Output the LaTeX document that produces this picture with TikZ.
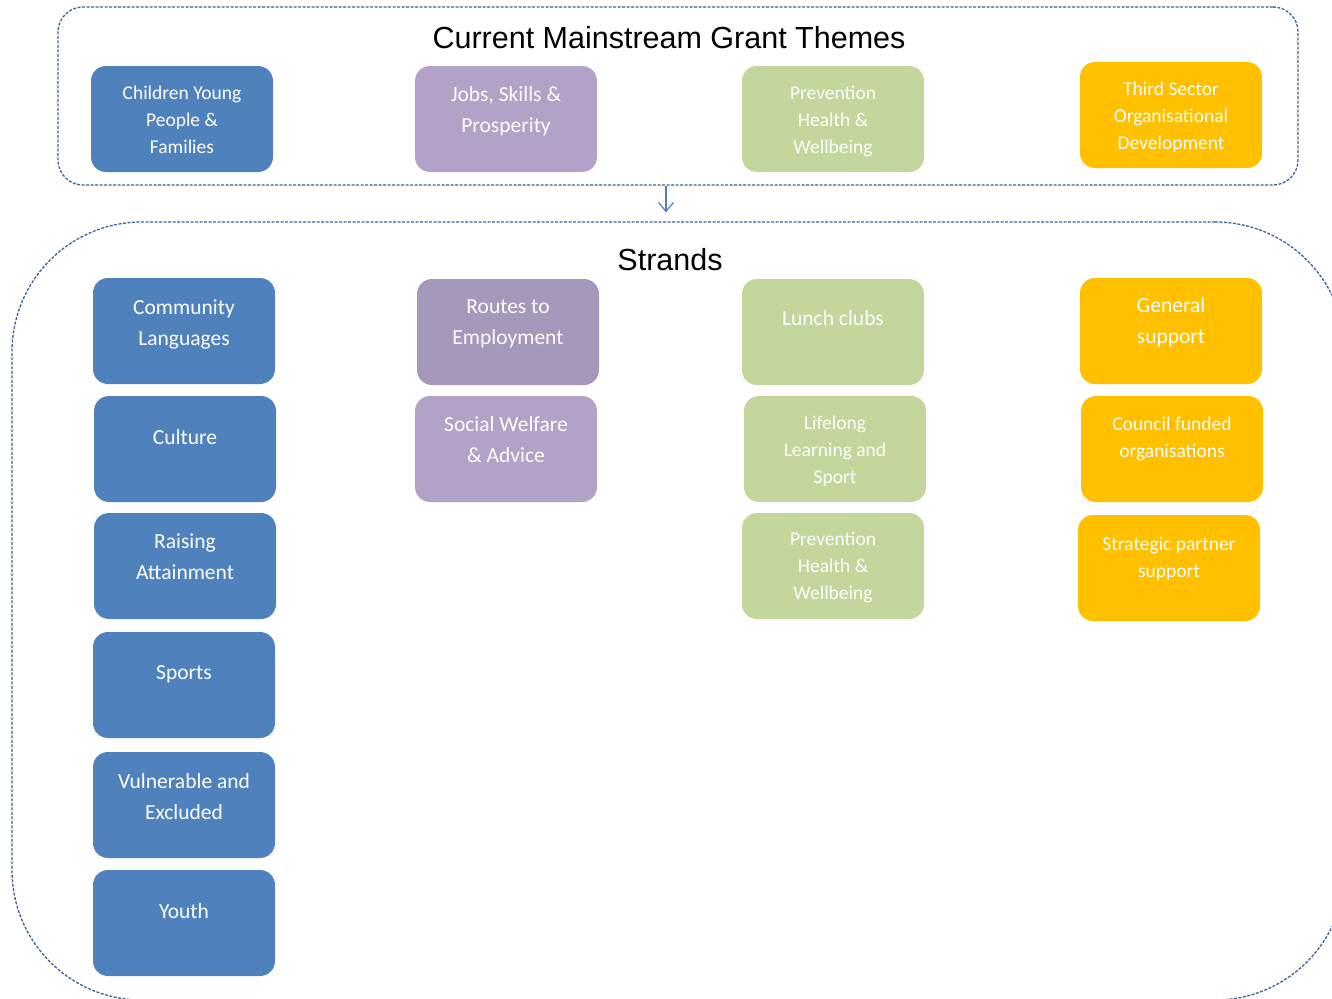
\documentclass[tikz,border=0pt]{standalone}
\usepackage{fontspec}
\newfontfamily\carlito{Carlito}
\newfontfamily\arialfont{Liberation Sans}
\usetikzlibrary{positioning}
\usetikzlibrary{arrows.meta}
\definecolor{cypblue}{HTML}{4F81BD}
\definecolor{jobslilac}{HTML}{B3A2C7}
\definecolor{routeslilac}{HTML}{A698BA}
\definecolor{healthgreen}{HTML}{C3D69B}
\definecolor{sectorgold}{HTML}{FFC000}
\definecolor{frameblue}{HTML}{3F6390}

\begin{document}
\begin{tikzpicture}
[x=1pt,y=-1pt,
  boxdecorate/.style={shape=rectangle,rounded corners=15pt,draw=none,%
    minimum width=182pt,minimum height=106pt,inner sep=0pt},
  framedecorate/.style={shape=rectangle,draw=frameblue,line width=1.3pt,%
    dash pattern=on 3pt off 1.5pt,inner sep=0pt},
  titledecorate/.style={font=\arialfont\fontsize{30.5}{36}\selectfont,inner sep=0pt},
  smalltext/.style={text=white,align=center,inner sep=0pt,%
    font=\carlito\fontsize{19.5}{27}\selectfont},
  largetext/.style={text=white,align=center,inner sep=0pt,%
    font=\carlito\fontsize{21.5}{31}\selectfont},
  linedecorate/.style={draw=cypblue,line width=1.2pt,-{Straight Barb[length=9pt,width=15pt]}}]
\useasboundingbox (0,0) rectangle (1332,998);
\clip (0,0) rectangle (1332,998);
%% frames and titles
\node (themes) at (678,96) [framedecorate,rounded corners=25pt,%
  minimum width=1240pt,minimum height=178pt] {};
\node (strands) at (678.5,611) [framedecorate,rounded corners=130pt,%
  minimum width=1333pt,minimum height=778pt] {};
\node (themestitle) at (669,38) [titledecorate] {Current Mainstream Grant Themes};
\node (strandstitle) at (670,260) [titledecorate] {Strands};
%% boxes
\foreach \boxname/\x/\y/\colour/\txtstyle/\shiftdown/\boxtext in {%
  cyp/182/119/cypblue/smalltext/20/{Children Young\\People \&\\Families},
  jsp/506/119/jobslilac/largetext/21/{Jobs, Skills \&\\Prosperity},
  phw/833/119/healthgreen/smalltext/20/{Prevention\\Health \&\\Wellbeing},
  tsod/1171/115/sectorgold/smalltext/20/{Third Sector\\Organisational\\Development},
  commlang/184/331/cypblue/largetext/22/{Community\\Languages},
  culture/185/449/cypblue/largetext/34/{Culture},
  raising/185/566/cypblue/largetext/21/{Raising\\Attainment},
  sports/184/685/cypblue/largetext/34/{Sports},
  vulnerable/184/805/cypblue/largetext/22/{Vulnerable and\\Excluded},
  youth/184/923/cypblue/largetext/34/{Youth},
  routes/508/332/routeslilac/largetext/21/{Routes to\\Employment},
  welfare/506/449/jobslilac/largetext/21/{Social Welfare\\\& Advice},
  lunch/833/332/healthgreen/largetext/32/{Lunch clubs},
  lifelong/835/449/healthgreen/smalltext/20/{Lifelong\\Learning and\\Sport},
  prevention/833/566/healthgreen/smalltext/19/{Prevention\\Health \&\\Wellbeing},
  general/1171/331/sectorgold/largetext/20/{General\\support},
  council/1172/449/sectorgold/smalltext/21/{Council funded\\organisations},
  strategic/1169/568/sectorgold/smalltext/22/{Strategic partner\\support}}
{
  \node (\boxname) at (\x,\y) [boxdecorate,fill=\colour] {};
  \node (\boxname-text) [\txtstyle,below=\shiftdown pt of \boxname.north] {\boxtext};
}
%% arrow between the frames
\coordinate (arrowx) at (666,0);
\draw[linedecorate,shorten >=9pt] (themes.south -| arrowx) -- (strands.north -| arrowx);
\end{tikzpicture}
\end{document}
